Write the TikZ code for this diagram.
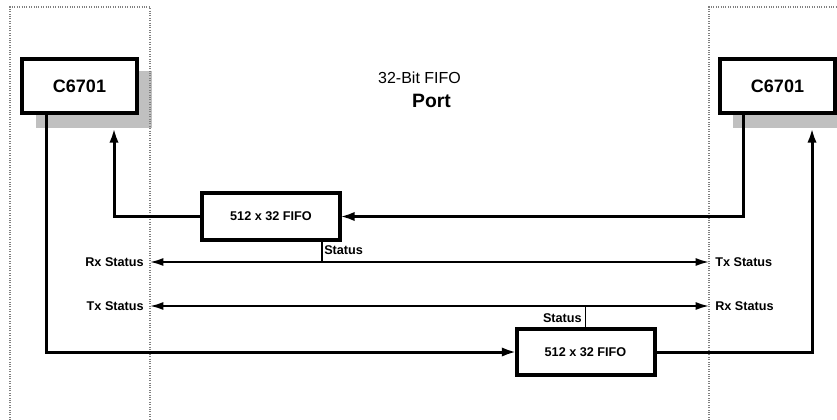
\documentclass[tikz,border=0pt]{standalone}
\usepackage{fontspec}
\setmainfont{Liberation Sans}
\usetikzlibrary{arrows.meta,calc}
\definecolor{shadowgray}{HTML}{C0C0C0}
\begin{document}
\begin{tikzpicture}[x=0.75pt,y=-0.75pt,
  cpu/.style={draw,line width=3pt,fill=white,minimum width=86.25pt,minimum height=40.5pt,inner sep=0pt,outer sep=0pt,font=\fontsize{13.5}{16}\selectfont\bfseries},
  fifo/.style={draw,line width=3pt,fill=white,minimum width=103.5pt,minimum height=35pt,inner sep=0pt,outer sep=0pt,font=\fontsize{9.5}{11}\selectfont\bfseries},
  lbl/.style={inner sep=0pt,font=\fontsize{9.5}{11}\selectfont\bfseries},
  slbl/.style={inner xsep=4.5pt,inner ysep=0pt,font=\fontsize{9.5}{11}\selectfont\bfseries},
  main/.style={line width=2.25pt,arrows={-Latex[length=11pt,width=7pt]}},
  stat/.style={line width=1.4pt,arrows={Latex[length=10pt,width=6pt]-Latex[length=10pt,width=6pt]}},
  stub/.style={line width=1pt},
  frame/.style={densely dotted,line width=0.8pt,gray},
  shade/.style={fill=shadowgray}
]
\useasboundingbox (0,0) rectangle (837,420);
\begin{scope}
\clip (0,0) rectangle (837,420);
% shadows
\fill[shade] (36,71) rectangle (152,128);
\fill[shade] (733,71) rectangle (850,128);
% dotted frames
\draw[frame] (10,425) -- (10,7) -- (150,7) -- (150,425);
\draw[frame] (709,425) -- (709,7) -- (845,7);
% processors
\node[cpu] (cl) at (79.5,86) {C6701};
\node[cpu] (cr) at (777.5,86) {C6701};
% title
\node[inner sep=0pt,font=\fontsize{12}{14}\selectfont] (t1) at (419.5,78) {32-Bit FIFO};
\node[inner sep=0pt,font=\fontsize{14.5}{17}\selectfont\bfseries] (t2) at (431.5,101) {Port};
% fifos
\node[fifo] (f1) at (271,216.5) {512 x 32 FIFO};
\node[fifo] (f2) at (585.5,352) {512 x 32 FIFO};
% free ends
\coordinate (inL) at ($(cl.south)+(34.5,15)$);
\coordinate (inR) at ($(cr.south)+(34.5,15)$);
% main data paths
\draw[main] ($(cr.south)+(-34.5,0)$) |- (f1.east);
\draw[main] (f1.west) -| (inL);
\draw[main] ($(cl.south)+(-33.5,0)$) |- (f2.west);
\draw[main] (f2.east) -| (inR);
% status labels
\node[slbl,anchor=east] (rxL) at (150,262) {Rx Status};
\node[slbl,anchor=west] (txR) at (709,262) {Tx Status};
\node[slbl,anchor=east] (txL) at (150,306) {Tx Status};
\node[slbl,anchor=west] (rxR) at (709,306) {Rx Status};
\draw[stat] (rxL.east) -- (txR.west);
\draw[stat] (txL.east) -- (rxR.west);
% status stubs
\coordinate (s1) at (322,262);
\draw[stub] (f1.south -| s1) -- (s1);
\draw[stub] (f2.north) -- (f2.north |- txL.east);
\node[lbl,anchor=west] (st1) at (324,250) {Status};
\node[lbl,anchor=east] (st2) at (582,318) {Status};
\end{scope}
\end{tikzpicture}
\end{document}
